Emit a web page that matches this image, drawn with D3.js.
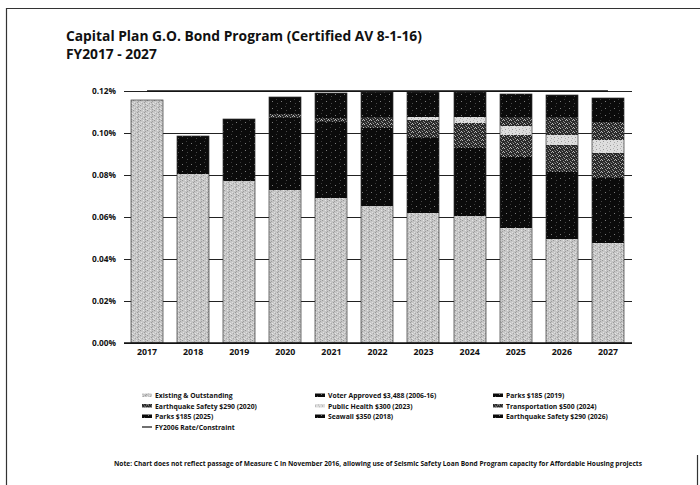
<!DOCTYPE html>
<html>
<head>
<meta charset="utf-8">
<script src="https://cdn.jsdelivr.net/npm/d3@7"></script>
<style>
  html, body { margin: 0; padding: 0; background: #fff; }
  svg text { font-family: "Open Sans", Lato, sans-serif; font-weight: 700; fill: #111; }
</style>
</head>
<body>
<svg id="chart" width="700" height="485"></svg>
<script>
// Fiscal years on the x axis
const years = [2017, 2018, 2019, 2020, 2021, 2022, 2023, 2024, 2025, 2026, 2027];

// Property tax rate per bond (percent of assessed value), stacked bottom to top
const existing          = [0.1157, 0.0803, 0.0771, 0.0729, 0.0689, 0.0652, 0.0621, 0.0605, 0.0548, 0.0495, 0.0478];
const voterApproved     = [0,      0.0144, 0.0206, 0.0291, 0.0305, 0.0316, 0.0302, 0.0272, 0.0291, 0.0275, 0.0262];
const parks2019         = [0,      0,      0.0020, 0.0050, 0.0058, 0.0056, 0.0053, 0.0050, 0.0048, 0.0046, 0.0044];
const eqSafety2020      = [0,      0,      0,      0.0020, 0.0019, 0.0052, 0.0086, 0.0119, 0.0103, 0.0127, 0.0119];
const publicHealth2023  = [0,      0,      0,      0,      0,      0,      0.0016, 0.0032, 0.0043, 0.0047, 0.0064];
const transport2024     = [0,      0,      0,      0,      0,      0,      0,      0,      0.0042, 0.0088, 0.0087];
const parks2025         = [0,      0,      0,      0,      0,      0,      0,      0,      0,      0.0010, 0.0015];
const seawall2018       = [0,      0.0040, 0.0070, 0.0080, 0.0118, 0.0118, 0.0117, 0.0117, 0.0111, 0.0091, 0.0088];
const eqSafety2026      = [0,      0,      0,      0,      0,      0,      0,      0,      0,      0,      0.0010];

// FY2006 rate constraint line
const rateConstraint    = [0.12, 0.12, 0.12, 0.12, 0.12, 0.12, 0.12, 0.12, 0.12, 0.12, 0.12];

const yTicks = [0, 0.02, 0.04, 0.06, 0.08, 0.10, 0.12];

const seriesKeys = ["existing", "voterApproved", "parks2019", "eqSafety2020", "publicHealth2023",
                    "transport2024", "parks2025", "seawall2018", "eqSafety2026"];
const seriesLabels = ["Existing & Outstanding", "Voter Approved $3,488 (2006-16)", "Parks $185 (2019)",
                      "Earthquake Safety $290 (2020)", "Public Health $300 (2023)", "Transportation $500 (2024)",
                      "Parks $185 (2025)", "Seawall $350 (2018)", "Earthquake Safety $290 (2026)"];
const lineLabel = "FY2006 Rate/Constraint";
const seriesValues = [existing, voterApproved, parks2019, eqSafety2020, publicHealth2023,
                      transport2024, parks2025, seawall2018, eqSafety2026];

// fill texture used by each series
const seriesFill = ["stipple", "dark", "dark", "mid", "light", "mid", "dark", "dark", "dark"];

const svg = d3.select("#chart");

// ---- textures ----
const defs = svg.append("defs");
function texture(id, w, h, base, dots) {
  const p = defs.append("pattern").attr("id", id).attr("patternUnits", "userSpaceOnUse")
    .attr("width", w).attr("height", h);
  p.append("rect").attr("width", w).attr("height", h).attr("fill", base);
  dots.forEach(([dx, dy, c]) => p.append("rect").attr("x", dx).attr("y", dy)
    .attr("width", 1).attr("height", 1).attr("fill", c));
}
texture("stipple", 7, 5, "#c6c6c6", [[0,0,"#969696"],[3,0,"#e4e4e4"],[5,1,"#a0a0a0"],[1,2,"#e0e0e0"],
  [4,2,"#999"],[6,3,"#e6e6e6"],[2,3,"#a8a8a8"],[0,4,"#dcdcdc"],[5,4,"#9c9c9c"],[3,3,"#d8d8d8"]]);
texture("dark", 9, 7, "#0b0b0b", [[2,3,"#7a7a7a"],[6,1,"#3a3a3a"],[7,5,"#4a4a4a"]]);
texture("mid", 7, 4, "#2a2a2a", [[0,0,"#b8b8b8"],[3,1,"#8e8e8e"],[5,0,"#a8a8a8"],[1,2,"#5e5e5e"],
  [4,2,"#a0a0a0"],[6,3,"#c0c0c0"],[2,3,"#909090"]]);
texture("light", 7, 4, "#dedede", [[1,1,"#999"],[4,0,"#b4b4b4"],[0,3,"#c4c4c4"],[5,2,"#a8a8a8"]]);

// ---- frame ----
svg.append("line").attr("x1", 6).attr("x2", 700).attr("y1", 8.5).attr("y2", 8.5).attr("stroke", "#333").attr("stroke-width", 1.2);
svg.append("line").attr("x1", 6.5).attr("x2", 6.5).attr("y1", 8).attr("y2", 485).attr("stroke", "#333").attr("stroke-width", 1.2);
svg.append("line").attr("x1", 697.5).attr("x2", 697.5).attr("y1", 455).attr("y2", 485).attr("stroke", "#333").attr("stroke-width", 1.2);

// ---- title ----
const title = svg.append("text").attr("x", 66).attr("y", 41).style("font-size", "13.8px");
title.append("tspan").attr("x", 66).text("Capital Plan G.O. Bond Program (Certified AV 8-1-16)");
title.append("tspan").attr("x", 66).attr("dy", 17.5).text("FY2017 - 2027");

// ---- scales ----
const x = d3.scaleBand().domain(years).range([124, 631]).paddingInner(0.3).paddingOuter(0.15);
const y = d3.scaleLinear().domain([0, 0.12]).range([343, 91]);

// gridlines with tick labels
const yAxis = svg.append("g").attr("transform", "translate(124,0)")
  .call(d3.axisLeft(y).tickValues(yTicks).tickSize(-(632 - 124)).tickPadding(8)
    .tickFormat(d => d.toFixed(2) + "%"));
yAxis.select(".domain").remove();
yAxis.selectAll(".tick line").attr("stroke", "#222").attr("stroke-width", 1);
yAxis.selectAll(".tick text").style("font-size", "8.3px").attr("fill", "#111");

// ---- stacked bars ----
const rows = years.map((yr, i) => {
  const r = { year: yr };
  seriesKeys.forEach((k, j) => r[k] = seriesValues[j][i]);
  return r;
});
const stacked = d3.stack().keys(seriesKeys)(rows);

svg.append("g").attr("shape-rendering", "crispEdges")
  .selectAll("g").data(stacked).join("g")
  .attr("fill", (d, i) => `url(#${seriesFill[i]})`)
  .selectAll("rect").data(d => d.filter(s => s[1] - s[0] > 0)).join("rect")
  .attr("x", d => Math.round(x(d.data.year)))
  .attr("width", Math.round(x.bandwidth()))
  .attr("y", d => Math.round(y(d[1])))
  .attr("height", d => Math.round(y(d[0])) - Math.round(y(d[1])));

// thin outline round each bar
svg.append("g").selectAll("rect").data(rows).join("rect")
  .attr("x", d => Math.round(x(d.year)))
  .attr("width", Math.round(x.bandwidth()))
  .attr("y", d => Math.round(y(d3.sum(seriesKeys, k => d[k]))))
  .attr("height", d => Math.round(y(0)) - Math.round(y(d3.sum(seriesKeys, k => d[k]))))
  .attr("fill", "none").attr("stroke", "#333").attr("stroke-width", 0.7);

// baseline
svg.append("line").attr("x1", 124).attr("x2", 632).attr("y1", y(0)).attr("y2", y(0))
  .attr("stroke", "#111").attr("stroke-width", 1.4);

// FY2006 rate constraint line
const line = d3.line().x((d, i) => x(years[i]) + x.bandwidth() / 2).y(d => y(d));
svg.append("path").datum(rateConstraint).attr("d", line)
  .attr("fill", "none").attr("stroke", "#111").attr("stroke-width", 1.4);

// x axis labels
const xAxis = svg.append("g").attr("transform", `translate(0,${y(0)})`)
  .call(d3.axisBottom(x).tickSize(0).tickPadding(6));
xAxis.select(".domain").remove();
xAxis.selectAll(".tick text").style("font-size", "8.8px").attr("fill", "#111");

// ---- legend ----
const legendCols = [155, 328, 506];
const legendRows = [398, 408.5, 419, 429.5];
const legendItems = seriesLabels.map((lab, i) => ({ lab, fill: `url(#${seriesFill[i]})`, kind: "box" }))
  .concat([{ lab: lineLabel, kind: "line" }]);
const leg = svg.append("g").selectAll("g").data(legendItems).join("g")
  .attr("transform", (d, i) => `translate(${legendCols[i % 3]},${legendRows[Math.floor(i / 3)]})`);
leg.filter(d => d.kind === "box").append("rect")
  .attr("x", -13).attr("y", -4.5).attr("width", 10).attr("height", 3.5)
  .attr("fill", d => d.fill);
leg.filter(d => d.kind === "line").append("line")
  .attr("x1", -13).attr("x2", -3).attr("y1", -2.5).attr("y2", -2.5)
  .attr("stroke", "#111").attr("stroke-width", 1.2);
leg.append("text").text(d => d.lab).style("font-size", "6.8px");

// ---- footnote ----
svg.append("text").attr("x", 378).attr("y", 466).attr("text-anchor", "middle")
  .style("font-size", "6.6px")
  .text("Note: Chart does not reflect passage of Measure C in November 2016, allowing use of Seismic Safety Loan Bond Program capacity for Affordable Housing projects");
</script>
</body>
</html>
